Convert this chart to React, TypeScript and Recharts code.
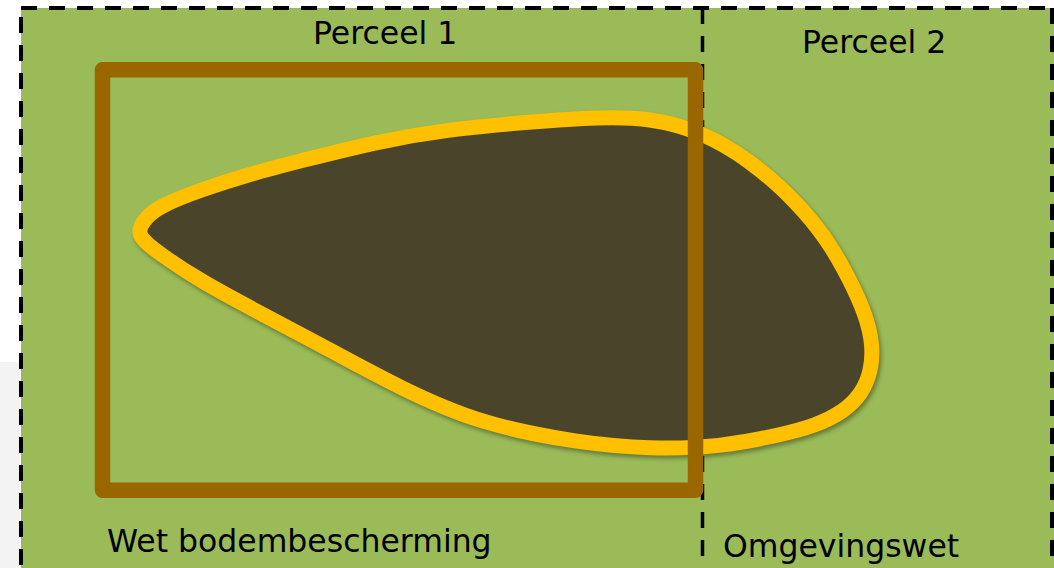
import { ComposedChart, Line, ReferenceArea, ReferenceLine, XAxis, YAxis } from "recharts";

const W = 1054;
const H = 568;

// outline of the contaminated spot (centre of the yellow border), clockwise from the left tip
const blobX = [137, 146, 160, 200, 250, 300, 380, 450, 530, 600, 650, 700, 750, 795, 828, 850, 866, 873, 871, 862, 845, 815, 780, 720, 650, 580, 480, 400, 330, 260, 200, 160, 145];
const blobY = [232, 217, 206, 190, 174, 161, 141, 129, 122, 117, 118, 131, 160, 200, 240, 280, 315, 345, 372, 393, 411, 426, 435, 447, 449, 443, 424, 388, 350, 313, 281, 254, 242];

// the Wbb frame around parcel 1
const frameX = [102.5, 695.5, 695.5, 102.5];
const frameY = [69.7, 69.7, 490.3, 490.3];

const blob = blobX.map((x, i) => ({ x, y: blobY[i] }));
const frame = frameX.map((x, i) => ({ x, y: frameY[i] }));

const labels = ["Perceel 1", "Perceel 2", "Wet bodembescherming", "Omgevingswet"];

const css = `
body { margin: 0; }
.blob .recharts-line-curve { fill: #4A452A; filter: drop-shadow(2px 3px 2px rgba(0,0,0,0.35)); }
`;

export default function App() {
  const font = { fontFamily: "'DejaVu Sans', Verdana, sans-serif", fontSize: 31.5, fill: "#000" };
  return (
    <div style={{ position: "relative", width: W, height: H, background: "#fff" }}>
      <style>{css}</style>
      <ComposedChart width={W} height={H} margin={{ top: 0, right: 0, bottom: 0, left: 0 }}>
        <XAxis dataKey="x" type="number" domain={[0, W]} allowDataOverflow hide />
        <YAxis type="number" domain={[0, H]} reversed allowDataOverflow hide />

        <ReferenceArea x1={0} x2={20} y1={362} y2={H} fill="#F3F3F3" fillOpacity={1} stroke="none" ifOverflow="visible" />
        <ReferenceArea x1={21} x2={W} y1={8} y2={H} fill="#9BBB59" fillOpacity={1} stroke="none" ifOverflow="visible" />

        <ReferenceLine segment={[{ x: 21, y: 8 }, { x: 1052, y: 8 }]} stroke="#000" strokeWidth={4} strokeDasharray="16 12" ifOverflow="visible" />
        <ReferenceLine segment={[{ x: 21, y: 17 }, { x: 21, y: H }]} stroke="#000" strokeWidth={4} strokeDasharray="16 12" ifOverflow="visible" />
        <ReferenceLine segment={[{ x: 1052, y: 8 }, { x: 1052, y: H }]} stroke="#000" strokeWidth={4} strokeDasharray="16 12" ifOverflow="visible" />
        <ReferenceLine segment={[{ x: 702.5, y: 8 }, { x: 702.5, y: H }]} stroke="#000" strokeWidth={3.5} strokeDasharray="16 12" ifOverflow="visible" />

        <Line
          className="blob"
          data={blob}
          dataKey="y"
          type="basisClosed"
          stroke="#FFC000"
          strokeWidth={15}
          dot={false}
          activeDot={false}
          isAnimationActive={false}
        />

        <Line
          data={frame}
          dataKey="y"
          type="linearClosed"
          stroke="#996600"
          strokeWidth={15.5}
          strokeLinejoin="round"
          dot={false}
          activeDot={false}
          isAnimationActive={false}
        />
      </ComposedChart>

      <svg width={W} height={H} style={{ position: "absolute", left: 0, top: 0, pointerEvents: "none" }}>
        <text x={313} y={44} {...font}>{labels[0]}</text>
        <text x={802} y={53} {...font}>{labels[1]}</text>
        <text x={107} y={552} {...font}>{labels[2]}</text>
        <text x={723} y={557} {...font}>{labels[3]}</text>
      </svg>
    </div>
  );
}
